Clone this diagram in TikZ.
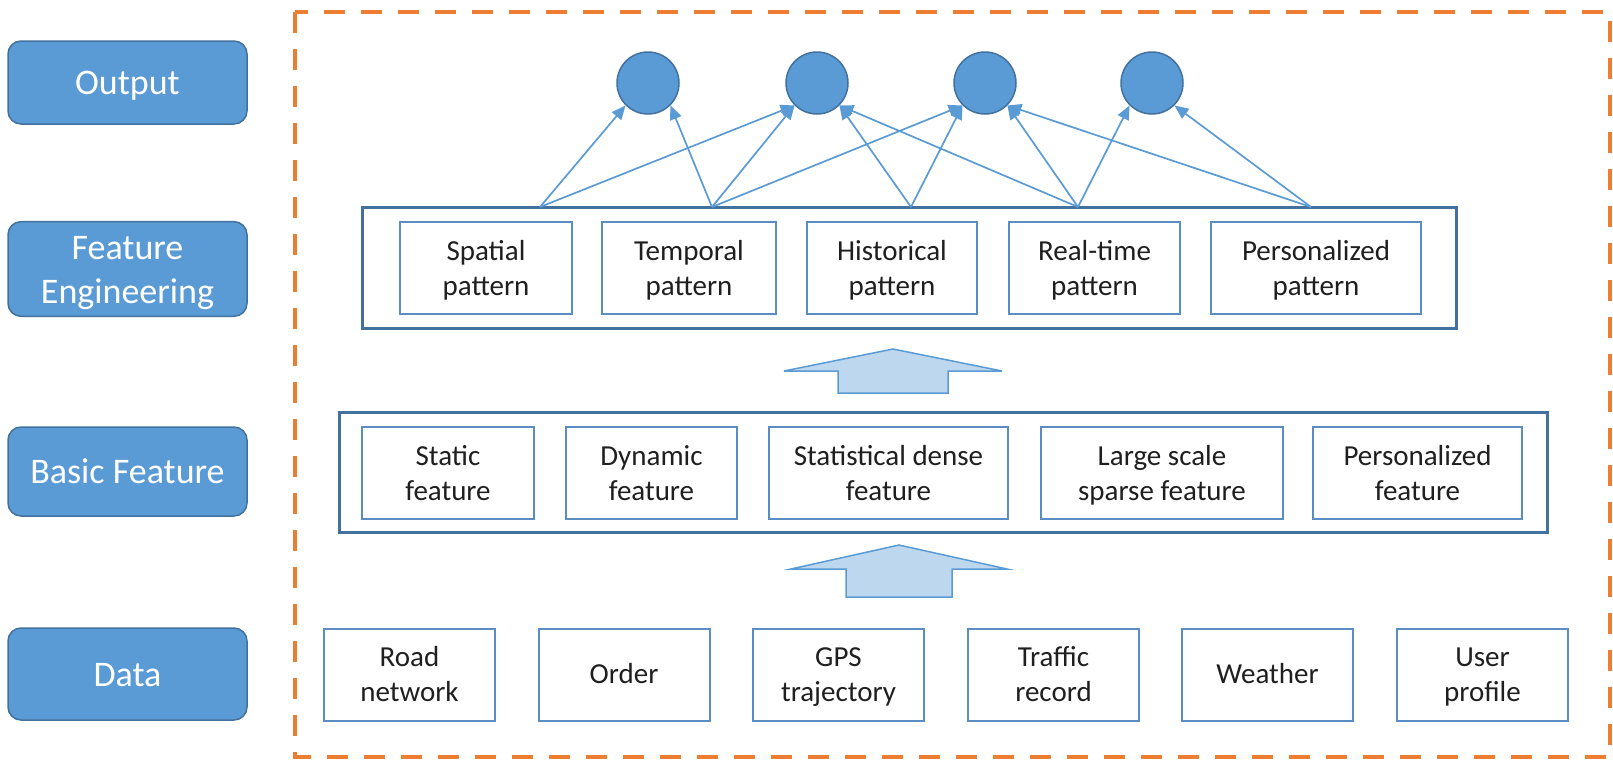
\documentclass[tikz,border=0pt]{standalone}
\usepackage{fontspec}
\setmainfont{Carlito}
\usetikzlibrary{arrows.meta}

\definecolor{accent}{HTML}{5B9BD5}
\definecolor{accentdark}{HTML}{41719C}
\definecolor{itemborder}{HTML}{5A8DC4}
\definecolor{paleblue}{HTML}{BDD7EE}
\definecolor{orangeline}{HTML}{ED7D31}

% two-line node text with struts inside the first and the last line
\newcommand{\twoline}[2]{\rule{0pt}{.85\baselineskip}#1\\#2\strut}

\tikzset{
  layer/.style={draw=accentdark, line width=0.75pt, fill=accent, rounded corners=6.5pt,
    text=white, font=\fontsize{18}{22}\selectfont, align=center, inner sep=0pt,
    minimum width=119.5pt, execute at begin node={\rule{0pt}{18.9pt}},
    execute at end node=\strut},
  group/.style={draw=accentdark, line width=1.5pt, inner sep=0pt},
  item/.style={draw=itemborder, line width=1pt, fill=white, text=black!88,
    font=\fontsize{14.5}{17.5}\selectfont, align=center, inner sep=0pt,
    minimum height=46pt, execute at begin node={\rule{0pt}{14.6pt}},
    execute at end node=\strut},
  unit/.style={circle, draw=accentdark, line width=0.75pt, fill=accent,
    minimum size=31pt, inner sep=0pt},
  link/.style={draw=accent, line width=0.85pt, -{Triangle[length=7pt,width=6pt]}},
  blockarrow/.style={draw=accent, line width=0.75pt, fill=paleblue, line join=miter},
  frame/.style={draw=orangeline, line width=2pt, dash pattern=on 10.5pt off 8pt}
}

\begin{document}
\begin{tikzpicture}[x=0.5pt, y=-0.5pt]
\useasboundingbox (0,0) rectangle (1613,761);

% layer labels on the left
\node[layer, minimum height=41.5pt] (lout)  at (127.5,82.5) {Output};
\node[layer, minimum height=46pt]   (lfe)   at (127.5,269)  {\twoline{Feature}{Engineering}};
\node[layer, minimum height=44.5pt] (lbf)   at (127.5,471.5){Basic Feature};
\node[layer, minimum height=46pt]   (ldata) at (127.5,674)  {Data};

% dashed frame around the model
\draw[frame] (295,12) rectangle (1610,757);

% output units
\node[unit] (c1) at (648,83)  {};
\node[unit] (c2) at (817,83)  {};
\node[unit] (c3) at (985,83)  {};
\node[unit] (c4) at (1152,83) {};

% feature engineering group
\node[group, minimum width=547pt, minimum height=60.5pt] (fe) at (909,267.5) {};
\node[item, minimum width=86pt]   (sp) at (486,268)    {\twoline{Spatial}{pattern}};
\node[item, minimum width=87pt]   (tp) at (689,268)    {\twoline{Temporal}{pattern}};
\node[item, minimum width=85pt]   (hp) at (892,268)    {\twoline{Historical}{pattern}};
\node[item, minimum width=85.5pt] (rp) at (1094.5,268) {\twoline{Real-time}{pattern}};
\node[item, minimum width=105pt]  (pp) at (1316,268)   {\twoline{Personalized}{pattern}};

% basic feature group
\node[group, minimum width=604pt, minimum height=60pt] (bf) at (943,472) {};
\node[item, minimum width=86pt]    (sf) at (448,473)    {\twoline{Static}{feature}};
\node[item, minimum width=85.5pt]  (df) at (651.5,473)  {\twoline{Dynamic}{feature}};
\node[item, minimum width=119.5pt] (st) at (888.5,473)  {\twoline{Statistical dense}{feature}};
\node[item, minimum width=121pt]   (ls) at (1162,473)   {\twoline{Large scale}{sparse feature}};
\node[item, minimum width=104.5pt] (pf) at (1417.5,473) {\twoline{Personalized}{feature}};

% data sources
\node[item, minimum width=85.5pt] (road)    at (409.5,674.5)  {\twoline{Road}{network}};
\node[item, minimum width=85.5pt] (order)   at (624,674.5)    {Order};
\node[item, minimum width=85.5pt] (gps)     at (838.5,674.5)  {\twoline{GPS}{trajectory}};
\node[item, minimum width=85.5pt] (traffic) at (1053.5,674.5) {\twoline{Traffic}{record}};
\node[item, minimum width=85.5pt] (weather) at (1267.5,674.5) {Weather};
\node[item, minimum width=85.5pt] (user)    at (1482.5,674.5) {\twoline{User}{profile}};

% block arrows between the layers
\draw[blockarrow] (893,349) -- (1002,371) -- (948,371) -- (948,393)
  -- (838,393) -- (838,371) -- (784,371) -- cycle;
\draw[blockarrow] (899,545) -- (1007,569) -- (952,569) -- (952,597)
  -- (846,597) -- (846,569) -- (791,569) -- cycle;

% connection points on top of the feature engineering group
\coordinate (s1) at (540,207);
\coordinate (s2) at (712,207);
\coordinate (s3) at (911,207);
\coordinate (s4) at (1078,207);
\coordinate (s5) at (1311,207);

% pattern-to-output links
\draw[link] (s1) -- (c1.-135);
\draw[link] (s1) -- (c2.-135);
\draw[link] (s2) -- (c1.-45);
\draw[link] (s2) -- (c2.-135);
\draw[link] (s2) -- (c3.-135);
\draw[link] (s3) -- (c2.-45);
\draw[link] (s3) -- (c3.-135);
\draw[link] (s4) -- (c2.-45);
\draw[link] (s4) -- (c3.-45);
\draw[link] (s4) -- (c4.-135);
\draw[link] (s5) -- (c3.-45);
\draw[link] (s5) -- (c4.-45);
\end{tikzpicture}
\end{document}
